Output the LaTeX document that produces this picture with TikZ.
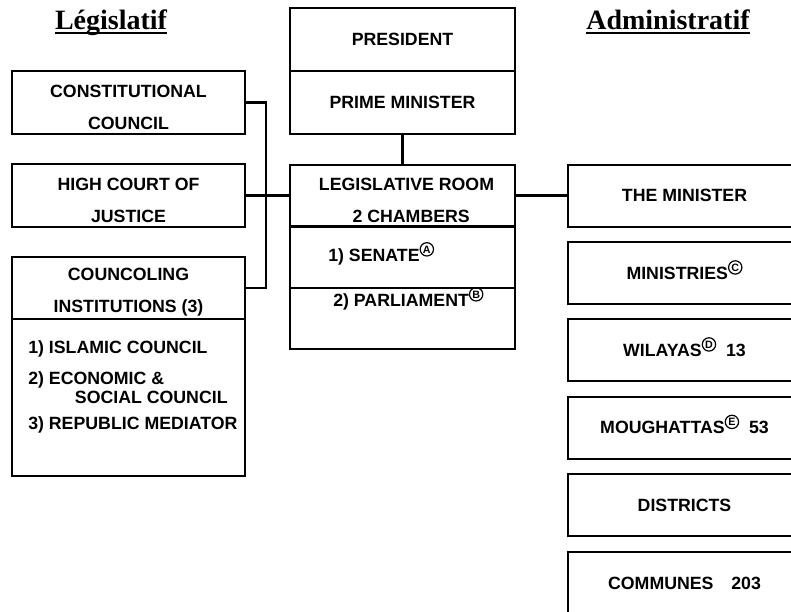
\documentclass[tikz,border=0pt]{standalone}
\usepackage{fontspec}
\setmainfont{Liberation Sans}
\newfontfamily\titlefont{Liberation Serif}
\usepackage{tikz}
\newcommand{\circlet}[1]{\smash{\raisebox{6pt}{\tikz[baseline=(c.base)] \node[draw, circle, line width=0.9pt, inner sep=0pt, minimum size=10pt, font=\bfseries\fontsize{8}{8}\selectfont] (c) {#1};}}}
\newcommand{\lineup}{\rule{0pt}{16pt}}
\tikzset{
  box/.style={draw, line width=1.5pt, minimum width=174.75pt, minimum height=47pt, inner sep=0pt, align=center, font=\bfseries\fontsize{13.3}{24}\selectfont},
  midbox/.style={box, minimum width=168.75pt},
  item/.style={inner sep=0pt, align=left, font=\bfseries\fontsize{13.3}{14.25}\selectfont},
  link/.style={line width=2pt},
  heading/.style={inner sep=0pt, font=\titlefont\bfseries\fontsize{21}{21}\selectfont}
}

\begin{document}
\begin{tikzpicture}[x=0.75pt, y=-0.75pt]

\useasboundingbox (0,0) rectangle (791,611);
\clip (0,0) rectangle (791,611);

\node[heading, anchor=base] (legis) at (111,29) {Législatif};
\node[heading, anchor=base] (admin) at (668,29) {Administratif};
\draw[line width=1.5pt] ([yshift=-2.8pt]legis.base west) -- ([yshift=-2.8pt]legis.base east);
\draw[line width=1.5pt] ([yshift=-2.8pt]admin.base west) -- ([yshift=-2.8pt]admin.base east);

\node[box] (cc) at (128.5,102.5) {\lineup CONSTITUTIONAL\\COUNCIL};
\node[box] (hc) at (128.5,195.5) {\lineup HIGH COURT OF\\JUSTICE};
\node[box, minimum height=46.5pt] (ci) at (128.5,288) {\lineup COUNCOLING\\INSTITUTIONS (3)};
\node[box, minimum height=117.75pt] (cilist) at (128.5,397.5) {};
\node[item, anchor=west] (members) at (28,387) {1) ISLAMIC COUNCIL\\[9pt]2) ECONOMIC \&\\\hspace*{35pt}SOCIAL COUNCIL\\[5.25pt]3) REPUBLIC MEDIATOR};

\node[midbox] (pres) at (402.5,39.5) {PRESIDENT};
\node[midbox] (pm) at (402.5,102.5) {PRIME MINISTER};
\node[midbox, minimum height=46.5pt] (lr) at (402.5,195.5) {\lineup\hspace*{6pt}LEGISLATIVE ROOM\\\hspace*{13pt}2 CHAMBERS};
\node[midbox, minimum height=46.5pt] (sen) at (402.5,257) {};
\node[item, anchor=base west] (senate) at (328,261) {1) SENATE\circlet{A}};
\node[midbox, minimum height=45.75pt] (parl) at (402.5,318.5) {};
\node[item, anchor=base west] (parliament) at (333,306) {2) PARLIAMENT\circlet{B}};

\foreach \n/\y/\t in {minister/195.5/THE MINISTER, mins/273/{MINISTRIES\circlet{C}}, wil/350/{WILAYAS\circlet{D}\ \ 13}, mou/427.5/{MOUGHATTAS\circlet{E}\ \ 53}, dis/505/DISTRICTS, com/583/{COMMUNES\quad 203}}
  \node[box, minimum height=46.5pt] (\n) at (684.5,\y) {\t};

\coordinate (lbar) at (266,195.5);
\draw[link] (cc.east) -| (lbar) |- (ci.east);
\draw[link] (hc.east) -- (lr.west);
\draw[link] (pm.south) -- (lr.north);
\draw[link] (lr.east) -- (minister.west);

\end{tikzpicture}
\end{document}
